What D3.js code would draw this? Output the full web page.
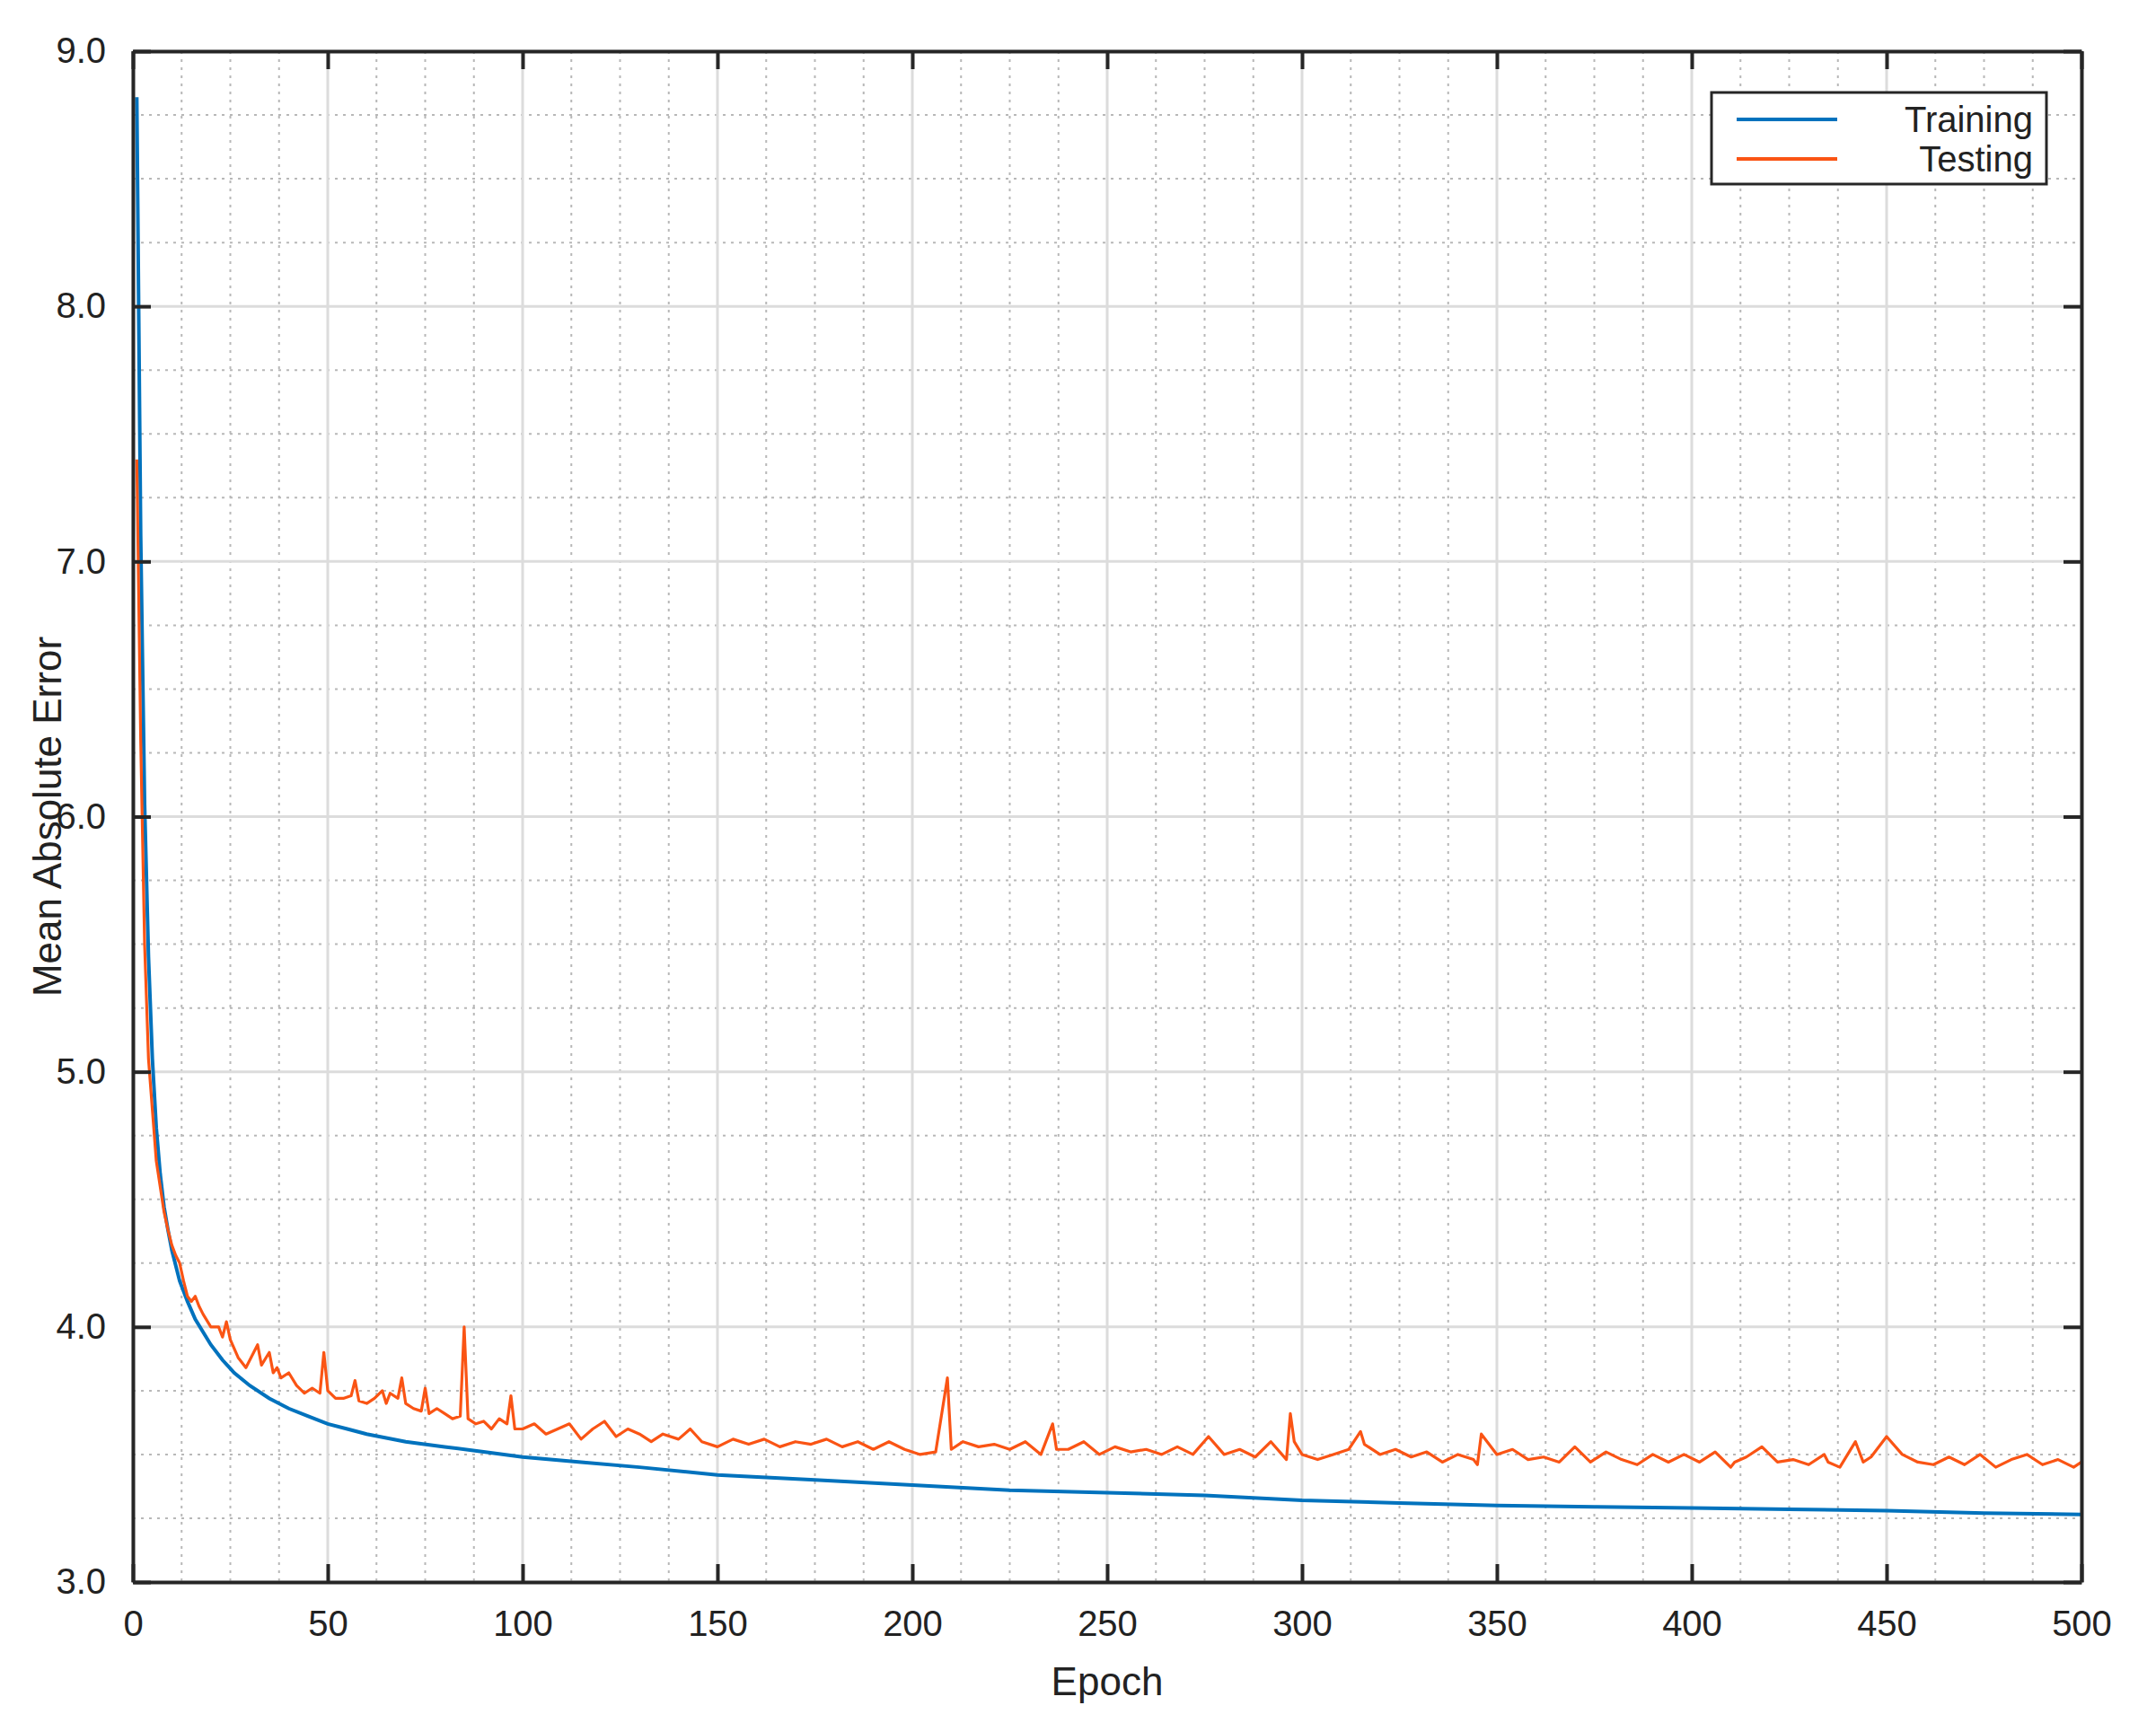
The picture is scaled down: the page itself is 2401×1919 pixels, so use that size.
<!DOCTYPE html>
<html><head><meta charset="utf-8">
<script src="https://cdn.jsdelivr.net/npm/d3@7"></script>
<style>body{margin:0;background:#fff}</style></head>
<body><svg id="c" width="2401" height="1919"></svg>
<script>
const trainEpochs=[1,2,3,4,5,6,7,8,9,10,12,14,16,18,20,23,26,30,35,40,45,50,55,60,70,80,90,100,115,130,150,175,200,225,250,275,300,325,350,375,400,425,450,475,500];
const trainValues=[8.82,7.1,6.05,5.45,5.05,4.78,4.6,4.47,4.38,4.3,4.18,4.1,4.03,3.98,3.93,3.87,3.82,3.77,3.72,3.68,3.65,3.62,3.6,3.58,3.55,3.53,3.51,3.49,3.47,3.45,3.42,3.40,3.38,3.36,3.35,3.34,3.32,3.31,3.30,3.295,3.29,3.285,3.28,3.27,3.265];
const testEpochs=[1,2,3,4,5,6,7,8,9,10,11,12,13,14,15,16,17,18,20,22,23,24,25,27,29,31,32,33,35,36,37,38,40,42,44,46,48,49,50,52,54,56,57,58,60,62,64,65,66,68,69,70,72,74,75,76,78,80,82,84,85,86,88,90,92,94,96,97,98,100,103,106,109,112,115,118,121,124,127,130,133,136,140,143,146,150,154,158,162,166,170,174,178,182,186,190,194,198,202,206,209,210,213,217,221,225,229,233,236,237,240,244,248,252,256,260,264,268,272,276,280,284,288,292,296,297,298,300,304,308,312,315,316,320,324,328,332,336,340,344,345,346,350,354,358,362,366,370,374,378,382,386,390,394,398,402,406,410,411,414,418,422,426,430,434,435,438,442,444,446,450,454,458,462,466,470,474,478,482,486,490,494,498,500];
const testValues=[7.4,6.3,5.5,5.05,4.85,4.65,4.55,4.45,4.38,4.32,4.28,4.25,4.18,4.12,4.1,4.12,4.08,4.05,4.0,4.0,3.96,4.02,3.95,3.88,3.84,3.9,3.93,3.85,3.9,3.82,3.84,3.8,3.82,3.77,3.74,3.76,3.74,3.9,3.75,3.72,3.72,3.73,3.79,3.71,3.7,3.72,3.75,3.7,3.74,3.72,3.8,3.7,3.68,3.67,3.76,3.66,3.68,3.66,3.64,3.65,4.0,3.64,3.62,3.63,3.6,3.64,3.62,3.73,3.6,3.6,3.62,3.58,3.6,3.62,3.56,3.6,3.63,3.57,3.6,3.58,3.55,3.58,3.56,3.6,3.55,3.53,3.56,3.54,3.56,3.53,3.55,3.54,3.56,3.53,3.55,3.52,3.55,3.52,3.5,3.51,3.8,3.52,3.55,3.53,3.54,3.52,3.55,3.5,3.62,3.52,3.52,3.55,3.5,3.53,3.51,3.52,3.5,3.53,3.5,3.57,3.5,3.52,3.49,3.55,3.48,3.66,3.55,3.5,3.48,3.5,3.52,3.59,3.54,3.5,3.52,3.49,3.51,3.47,3.5,3.48,3.46,3.58,3.5,3.52,3.48,3.49,3.47,3.53,3.47,3.51,3.48,3.46,3.5,3.47,3.5,3.47,3.51,3.45,3.47,3.49,3.53,3.47,3.48,3.46,3.5,3.47,3.45,3.55,3.47,3.49,3.57,3.5,3.47,3.46,3.49,3.46,3.5,3.45,3.48,3.5,3.46,3.48,3.45,3.47,3.44,3.53,3.51];
const xTicks=[0,50,100,150,200,250,300,350,400,450,500];
const yTicks=[3,4,5,6,7,8,9];
const seriesNames=["Training","Testing"];
const colors=["#0072BD","#FA5414"];

const svg=d3.select("#c");
const L=148,R=2318,T=57,B=1762;
const x=d3.scaleLinear().domain([0,500]).range([L,R]);
const y=d3.scaleLinear().domain([3,9]).range([B,T]);
const g=svg.append("g");
// minor grid
const xMinor=d3.range(0,500.1,12.5).filter(v=>v%50!==0);
const yMinor=d3.range(3,9.01,0.25).filter(v=>Math.abs(v-Math.round(v))>1e-6);
g.selectAll(".xm").data(xMinor).enter().append("line").attr("x1",d=>x(d)).attr("x2",d=>x(d)).attr("y1",T).attr("y2",B).attr("stroke","#b8b8b8").attr("stroke-width",2).attr("stroke-dasharray","3,6");
g.selectAll(".ym").data(yMinor).enter().append("line").attr("y1",d=>y(d)).attr("y2",d=>y(d)).attr("x1",L).attr("x2",R).attr("stroke","#b8b8b8").attr("stroke-width",2).attr("stroke-dasharray","3,6");
g.selectAll(".xg").data(xTicks).enter().append("line").attr("x1",d=>x(d)).attr("x2",d=>x(d)).attr("y1",T).attr("y2",B).attr("stroke","#dcdcdc").attr("stroke-width",3);
g.selectAll(".yg").data(yTicks).enter().append("line").attr("y1",d=>y(d)).attr("y2",d=>y(d)).attr("x1",L).attr("x2",R).attr("stroke","#dcdcdc").attr("stroke-width",3);

const line=d3.line().x(d=>x(d[0])).y(d=>y(d[1]));
const clip=svg.append("clipPath").attr("id","cp").append("rect").attr("x",L).attr("y",T).attr("width",R-L).attr("height",B-T);
svg.append("path").datum(trainEpochs.map((e,i)=>[e,trainValues[i]])).attr("d",line).attr("fill","none").attr("stroke",colors[0]).attr("stroke-width",4).attr("clip-path","url(#cp)");
svg.append("path").datum(testEpochs.map((e,i)=>[e,testValues[i]])).attr("d",line).attr("fill","none").attr("stroke",colors[1]).attr("stroke-width",3.2).attr("stroke-linejoin","round").attr("clip-path","url(#cp)");

// axes (MATLAB box with inward ticks)
const tl=20;
const ax=svg.append("g").attr("transform",`translate(0,${B})`).call(d3.axisBottom(x).tickValues(xTicks).tickSizeInner(-tl).tickSizeOuter(0).tickPadding(30));
const ay=svg.append("g").attr("transform",`translate(${L},0)`).call(d3.axisLeft(y).tickValues(yTicks).tickSizeInner(-tl).tickSizeOuter(0).tickPadding(30));
const at=svg.append("g").attr("transform",`translate(0,${T})`).call(d3.axisTop(x).tickValues(xTicks).tickSizeInner(-tl).tickSizeOuter(0).tickFormat(""));
const ar=svg.append("g").attr("transform",`translate(${R},0)`).call(d3.axisRight(y).tickValues(yTicks).tickSizeInner(-tl).tickSizeOuter(0).tickFormat(""));
[ax,ay,at,ar].forEach(a=>{a.select(".domain").attr("stroke","#262626").attr("stroke-width",4);a.selectAll(".tick line").attr("stroke","#262626").attr("stroke-width",4);
 a.selectAll("text").attr("font-family","Liberation Sans, Arial, sans-serif").attr("font-size",40).attr("fill","#222");});
ax.selectAll("text").attr("dy","0.75em");
svg.append("text").attr("x",(L+R)/2).attr("y",1888).attr("text-anchor","middle").attr("font-family","Liberation Sans, Arial, sans-serif").attr("font-size",44).attr("fill","#222").text("Epoch");
svg.append("text").attr("transform",`translate(68,${(T+B)/2}) rotate(-90)`).attr("text-anchor","middle").attr("font-family","Liberation Sans, Arial, sans-serif").attr("font-size",44).attr("fill","#222").text("Mean Absolute Error");

// legend
const lg=svg.append("g").attr("transform","translate(1906,103)");
lg.append("rect").attr("width",373).attr("height",102).attr("fill","#fff").attr("stroke","#262626").attr("stroke-width",3);
seriesNames.forEach((n,i)=>{
 const yy=30+i*44;
 lg.append("line").attr("x1",28).attr("x2",140).attr("y1",yy).attr("y2",yy).attr("stroke",colors[i]).attr("stroke-width",4);
 lg.append("text").attr("x",358).attr("y",yy).attr("dy","0.35em").attr("text-anchor","end").attr("font-family","Liberation Sans, Arial, sans-serif").attr("font-size",40).attr("fill","#222").text(n);
});
</script></body></html>
